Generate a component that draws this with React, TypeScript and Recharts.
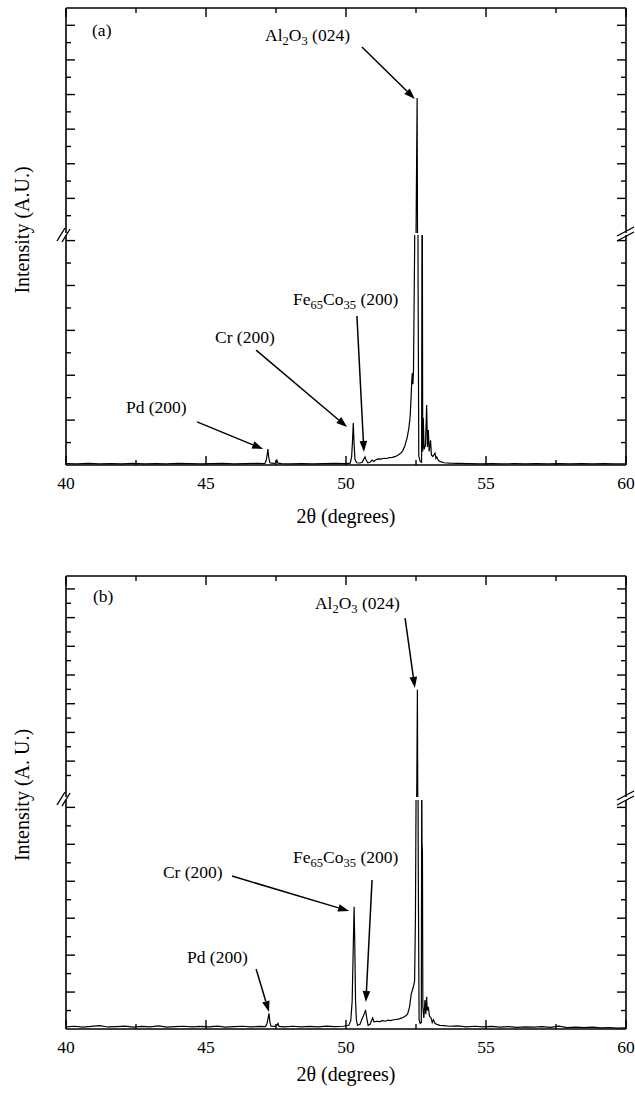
import React from "react";
import { LineChart, Line, XAxis, YAxis, ReferenceLine, ReferenceDot } from "recharts";

const FONT = "Liberation Serif";
const INK = "#000";
const W = 635;
const LEFT = 65;
const RIGHT = 8;

// 2-theta ticks
const X_TICKS = [40, 42.5, 45, 47.5, 50, 52.5, 55, 57.5, 60];

// y ticks of each axis segment (arbitrary units, break between segments)
const A_UPPER_TICKS = [21, 22, 23, 24, 25, 26, 27, 28, 29, 30, 31, 32];
const A_LOWER_TICKS = [1, 2, 3, 4, 5, 6, 7, 8, 9, 10];
const B_UPPER_TICKS = [21, 22, 23, 24, 25, 26, 27, 28, 29, 30, 31, 32, 33, 34];
const B_LOWER_TICKS = [1, 2, 3, 4, 5, 6, 7, 8, 9, 10, 11, 12];

const A_UPPER_DOMAIN = [20, 33];
const A_LOWER_DOMAIN = [0, 10.25];
const B_UPPER_DOMAIN = [19.5, 34.9];
const B_LOWER_DOMAIN = [0, 12.4];

// [2theta, intensity]
const A_SCAN: [number, number][] = [
  [40.0, 0.06], [40.4, 0.05], [40.8, 0.07], [41.2, 0.05], [41.6, 0.06], [42.0, 0.05],
  [42.4, 0.07], [42.8, 0.05], [43.2, 0.06], [43.6, 0.05], [44.0, 0.07], [44.4, 0.06],
  [44.8, 0.05], [45.2, 0.06], [45.6, 0.07], [46.0, 0.05], [46.4, 0.06], [46.8, 0.07],
  [47.1, 0.06], [47.15, 0.2], [47.19, 0.5], [47.21, 0.71], [47.24, 0.35], [47.28, 0.1],
  [47.4, 0.07], [47.48, 0.09], [47.53, 0.22], [47.57, 0.08], [47.7, 0.06], [48.0, 0.05],
  [48.4, 0.06], [48.8, 0.05], [49.2, 0.06], [49.6, 0.07], [50.0, 0.06], [50.15, 0.08],
  [50.2, 0.35], [50.23, 1.0], [50.26, 1.87], [50.29, 0.9], [50.32, 0.25], [50.38, 0.1],
  [50.5, 0.09], [50.58, 0.12], [50.63, 0.25], [50.68, 0.36], [50.72, 0.22], [50.78, 0.1],
  [50.86, 0.12], [50.93, 0.22], [50.99, 0.16], [51.06, 0.22], [51.14, 0.27], [51.25, 0.26],
  [51.35, 0.3], [51.45, 0.29], [51.55, 0.33], [51.65, 0.34], [51.75, 0.37], [51.85, 0.43],
  [51.95, 0.52], [52.02, 0.62], [52.1, 0.85], [52.18, 1.2], [52.24, 1.6], [52.29, 2.14],
  [52.32, 2.9], [52.35, 3.8], [52.37, 4.1], [52.39, 3.6], [52.41, 4.2], [52.45, 9.5],
  [52.54, 27.8], [52.575, 8], [52.6, 0.4], [52.65, 0.15], [52.7, 0.12], [52.72, 16],
  [52.74, 0.6], [52.76, 2.1], [52.79, 0.7], [52.84, 0.9], [52.88, 2.67], [52.91, 0.8],
  [52.94, 1.56], [52.97, 0.6], [53.02, 1.1], [53.05, 0.45], [53.1, 0.38], [53.18, 0.53],
  [53.21, 0.3], [53.24, 0.36], [53.3, 0.2], [53.38, 0.15], [53.5, 0.1], [53.7, 0.08],
  [54.0, 0.07], [54.4, 0.06], [54.8, 0.05], [55.2, 0.06], [55.6, 0.05], [56.0, 0.06],
  [56.4, 0.05], [56.8, 0.06], [57.2, 0.05], [57.6, 0.06], [58.0, 0.05], [58.4, 0.06],
  [58.8, 0.05], [59.2, 0.06], [59.6, 0.05], [60.0, 0.05],
];

// [2theta, intensity]
const B_SCAN: [number, number][] = [
  [40.0, 0.12], [40.3, 0.15], [40.6, 0.1], [40.9, 0.14], [41.2, 0.18], [41.5, 0.11],
  [41.8, 0.13], [42.1, 0.16], [42.4, 0.1], [42.7, 0.14], [43.0, 0.12], [43.3, 0.17],
  [43.6, 0.1], [43.9, 0.13], [44.2, 0.15], [44.5, 0.11], [44.8, 0.14], [45.1, 0.12],
  [45.4, 0.16], [45.7, 0.1], [46.0, 0.13], [46.3, 0.15], [46.6, 0.11], [46.9, 0.14],
  [47.12, 0.13], [47.18, 0.3], [47.22, 0.6], [47.25, 0.85], [47.28, 0.4], [47.32, 0.15],
  [47.45, 0.14], [47.53, 0.2], [47.57, 0.3], [47.61, 0.14], [47.8, 0.12], [48.1, 0.15],
  [48.4, 0.11], [48.7, 0.14], [49.0, 0.12], [49.3, 0.16], [49.6, 0.13], [49.9, 0.15],
  [50.1, 0.2], [50.17, 0.45], [50.22, 1.5], [50.26, 4.5], [50.29, 6.62], [50.31, 5.0],
  [50.34, 1.6], [50.37, 0.5], [50.41, 0.2], [50.5, 0.25], [50.56, 0.5], [50.62, 0.7],
  [50.67, 0.9], [50.7, 1.03], [50.74, 0.6], [50.79, 0.2], [50.86, 0.25], [50.95, 0.6],
  [51.0, 0.38], [51.1, 0.42], [51.2, 0.4], [51.3, 0.45], [51.4, 0.42], [51.5, 0.48],
  [51.6, 0.45], [51.7, 0.5], [51.8, 0.52], [51.9, 0.55], [52.0, 0.6], [52.1, 0.68],
  [52.2, 0.8], [52.27, 1.2], [52.33, 1.9], [52.37, 2.1], [52.41, 2.3], [52.45, 2.6],
  [52.48, 6], [52.55, 26.97], [52.58, 9], [52.61, 0.5], [52.65, 0.3], [52.69, 0.35],
  [52.705, 15], [52.715, 10.1], [52.73, 9.6], [52.745, 1.2], [52.78, 0.6], [52.82, 1.57],
  [52.85, 0.8], [52.88, 1.75], [52.9, 1.0], [52.94, 1.2], [52.98, 0.7], [53.04, 0.6],
  [53.08, 0.35], [53.12, 0.5], [53.18, 0.3], [53.25, 0.25], [53.35, 0.2], [53.5, 0.18],
  [53.7, 0.15], [54.0, 0.17], [54.3, 0.12], [54.6, 0.15], [54.9, 0.11], [55.2, 0.14],
  [55.5, 0.1], [55.8, 0.13], [56.1, 0.09], [56.4, 0.12], [56.7, 0.1], [57.0, 0.13],
  [57.3, 0.09], [57.6, 0.15], [57.9, 0.08], [58.2, 0.1], [58.5, 0.07], [58.8, 0.1],
  [59.1, 0.06], [59.4, 0.08], [59.7, 0.05], [60.0, 0.06],
];

// label text: [text, isSubscript]
const AL2O3 = [["Al", 0], ["2", 1], ["O", 0], ["3", 1], [" (024)", 0]];
const FECO = [["Fe", 0], ["65", 1], ["Co", 0], ["35", 1], [" (200)", 0]];
const CR = [["Cr (200)", 0]];
const PD = [["Pd (200)", 0]];

const A_LABELS = [
  { part: "upper", t: 40.93, v: 31.38, text: [["(a)", 0]] },
  { part: "upper", t: 47.11, v: 31.1, text: AL2O3 },
  { part: "lower", t: 48.11, v: 7.13, text: FECO },
  { part: "lower", t: 45.32, v: 5.44, text: CR },
  { part: "lower", t: 42.14, v: 2.32, text: PD },
];
const A_ARROWS = [
  { part: "upper", from: [50.57, 30.75], to: [52.46, 27.74] },
  { part: "lower", from: [50.39, 6.64], to: [50.64, 0.58] },
  { part: "lower", from: [46.79, 5.12], to: [50.04, 1.69] },
  { part: "lower", from: [44.68, 1.92], to: [47.04, 0.71] },
];

const B_LABELS = [
  { part: "upper", t: 40.96, v: 33.09, text: [["(b)", 0]] },
  { part: "upper", t: 48.89, v: 32.6, text: AL2O3 },
  { part: "lower", t: 48.11, v: 8.99, text: FECO },
  { part: "lower", t: 43.46, v: 8.18, text: CR },
  { part: "lower", t: 44.32, v: 3.57, text: PD },
];
const B_ARROWS = [
  { part: "upper", from: [52.11, 31.97], to: [52.46, 27.1] },
  { part: "lower", from: [50.93, 8.07], to: [50.71, 1.46] },
  { part: "lower", from: [45.93, 8.28], to: [50.11, 6.39] },
  { part: "lower", from: [46.79, 3.25], to: [47.25, 0.92] },
];

const toRows = (pts: [number, number][]) => pts.map(([t, v]) => ({ t, v }));

const AXIS_LINE = { stroke: INK, strokeWidth: 1.6 };

const topTick = (p: any) => {
  const len = p.payload.value % 5 === 0 ? 9 : 5;
  return <line x1={p.x} x2={p.x} y1={p.y} y2={p.y + len} stroke={INK} strokeWidth={1.4} />;
};

const bottomTick = (p: any) => {
  const major = p.payload.value % 5 === 0;
  return (
    <g>
      <line x1={p.x} x2={p.x} y1={p.y} y2={p.y - (major ? 9 : 5)} stroke={INK} strokeWidth={1.4} />
      {major && (
        <text x={p.x} y={p.y + 24} textAnchor="middle" fontFamily={FONT} fontSize={17.5} fill={INK}>
          {p.payload.value}
        </text>
      )}
    </g>
  );
};

const leftTick = (p: any) => {
  const len = p.payload.value % 2 === 0 ? 9 : 5;
  return <line x1={p.x} x2={p.x + len} y1={p.y} y2={p.y} stroke={INK} strokeWidth={1.4} />;
};

const rightTick = (p: any) => {
  const len = p.payload.value % 2 === 0 ? 9 : 5;
  return <line x1={p.x} x2={p.x - len} y1={p.y} y2={p.y} stroke={INK} strokeWidth={1.4} />;
};

const labelShape = (parts: any[]) => (p: any) => {
  let prev = 0;
  return (
    <text x={p.cx} y={p.cy} fontFamily={FONT} fontSize={17.5} fill={INK}>
      {parts.map(([s, sub]: any, i: number) => {
        const dy = (sub ? 4 : 0) - (prev ? 4 : 0);
        prev = sub;
        return (
          <tspan key={i} dy={dy} fontSize={sub ? 12.5 : 17.5}>
            {s}
          </tspan>
        );
      })}
    </text>
  );
};

const arrowShape = (p: any) => {
  const { x1, y1, x2, y2 } = p;
  const dx = x2 - x1;
  const dy = y2 - y1;
  const len = Math.hypot(dx, dy) || 1;
  const ux = dx / len;
  const uy = dy / len;
  const hl = 11;
  const hw = 3.8;
  const bx = x2 - ux * hl;
  const by = y2 - uy * hl;
  return (
    <g>
      <line x1={x1} y1={y1} x2={bx} y2={by} stroke={INK} strokeWidth={1.5} />
      <polygon
        points={`${x2},${y2} ${bx - uy * hw},${by + ux * hw} ${bx + uy * hw},${by - ux * hw}`}
        fill={INK}
      />
    </g>
  );
};

function Half({
  rows,
  part,
  domain,
  ticks,
  height,
  marginTop,
  xAxisHeight,
  labels,
  arrows,
}: any) {
  const upper = part === "upper";
  return (
    <LineChart
      width={W}
      height={height}
      data={rows}
      margin={{ top: upper ? marginTop - 1 : marginTop, right: RIGHT, bottom: 0, left: LEFT }}
    >
      <XAxis
        type="number"
        dataKey="t"
        domain={[40, 60]}
        ticks={X_TICKS}
        interval={0}
        allowDataOverflow
        orientation={upper ? "top" : "bottom"}
        height={upper ? 1 : xAxisHeight}
        tickSize={0}
        tickMargin={0}
        tickLine={false}
        axisLine={AXIS_LINE}
        tick={upper ? topTick : bottomTick}
      />
      <YAxis
        yAxisId="l"
        orientation="left"
        type="number"
        domain={domain}
        ticks={ticks}
        interval={0}
        allowDataOverflow
        width={1}
        tickSize={0}
        tickMargin={0}
        tickLine={false}
        axisLine={AXIS_LINE}
        tick={leftTick}
      />
      <YAxis
        yAxisId="r"
        orientation="right"
        type="number"
        domain={domain}
        ticks={ticks}
        interval={0}
        allowDataOverflow
        width={1}
        tickSize={0}
        tickMargin={0}
        tickLine={false}
        axisLine={AXIS_LINE}
        tick={rightTick}
      />
      <Line
        yAxisId="l"
        type="linear"
        dataKey="v"
        stroke={INK}
        strokeWidth={1.2}
        dot={false}
        isAnimationActive={false}
      />
      {arrows
        .filter((a: any) => a.part === part)
        .map((a: any, i: number) => (
          <ReferenceLine
            key={`arrow-${i}`}
            yAxisId="l"
            segment={[
              { x: a.from[0], y: a.from[1] },
              { x: a.to[0], y: a.to[1] },
            ]}
            shape={arrowShape}
          />
        ))}
      {labels
        .filter((l: any) => l.part === part)
        .map((l: any, i: number) => (
          <ReferenceDot key={`lab-${i}`} yAxisId="l" x={l.t} y={l.v} r={0} shape={labelShape(l.text)} />
        ))}
    </LineChart>
  );
}

function BreakMarks({ y }: { y: number }) {
  return (
    <g stroke={INK} strokeWidth={1.4}>
      <line x1={57} y1={y + 7} x2={65} y2={y - 6} />
      <line x1={62} y1={y + 8} x2={70} y2={y - 5} />
      <line x1={617} y1={y + 2} x2={634} y2={y - 7} />
      <line x1={617} y1={y + 7} x2={634} y2={y - 2} />
    </g>
  );
}

export default function App() {
  const aRows = toRows(A_SCAN);
  const bRows = toRows(B_SCAN);
  return (
    <div
      style={{
        position: "absolute",
        left: 0,
        top: 0,
        width: W,
        height: 1095,
        overflow: "hidden",
        background: "#fff",
      }}
    >
      <div style={{ position: "absolute", left: 0, top: 0 }}>
        <Half rows={aRows} part="upper" domain={A_UPPER_DOMAIN} ticks={A_UPPER_TICKS} height={233} marginTop={8} labels={A_LABELS} arrows={A_ARROWS} />
      </div>
      <div style={{ position: "absolute", left: 0, top: 233 }}>
        <Half rows={aRows} part="lower" domain={A_LOWER_DOMAIN} ticks={A_LOWER_TICKS} height={300} marginTop={2} xAxisHeight={68} labels={A_LABELS} arrows={A_ARROWS} />
      </div>
      <div style={{ position: "absolute", left: 0, top: 560 }}>
        <Half rows={bRows} part="upper" domain={B_UPPER_DOMAIN} ticks={B_UPPER_TICKS} height={237} marginTop={16} labels={B_LABELS} arrows={B_ARROWS} />
      </div>
      <div style={{ position: "absolute", left: 0, top: 797 }}>
        <Half rows={bRows} part="lower" domain={B_LOWER_DOMAIN} ticks={B_LOWER_TICKS} height={298} marginTop={3} xAxisHeight={66} labels={B_LABELS} arrows={B_ARROWS} />
      </div>
      <svg
        width={W}
        height={1095}
        style={{ position: "absolute", left: 0, top: 0, pointerEvents: "none" }}
      >
        <BreakMarks y={234} />
        <BreakMarks y={798} />
        <g fontFamily={FONT} fontSize={20} fill={INK} textAnchor="middle">
          <text x={346} y={523}>2θ (degrees)</text>
          <text x={346} y={1081}>2θ (degrees)</text>
          <text transform="translate(29,230) rotate(-90)">Intensity (A.U.)</text>
          <text transform="translate(29,795) rotate(-90)">Intensity (A. U.)</text>
        </g>
      </svg>
    </div>
  );
}
